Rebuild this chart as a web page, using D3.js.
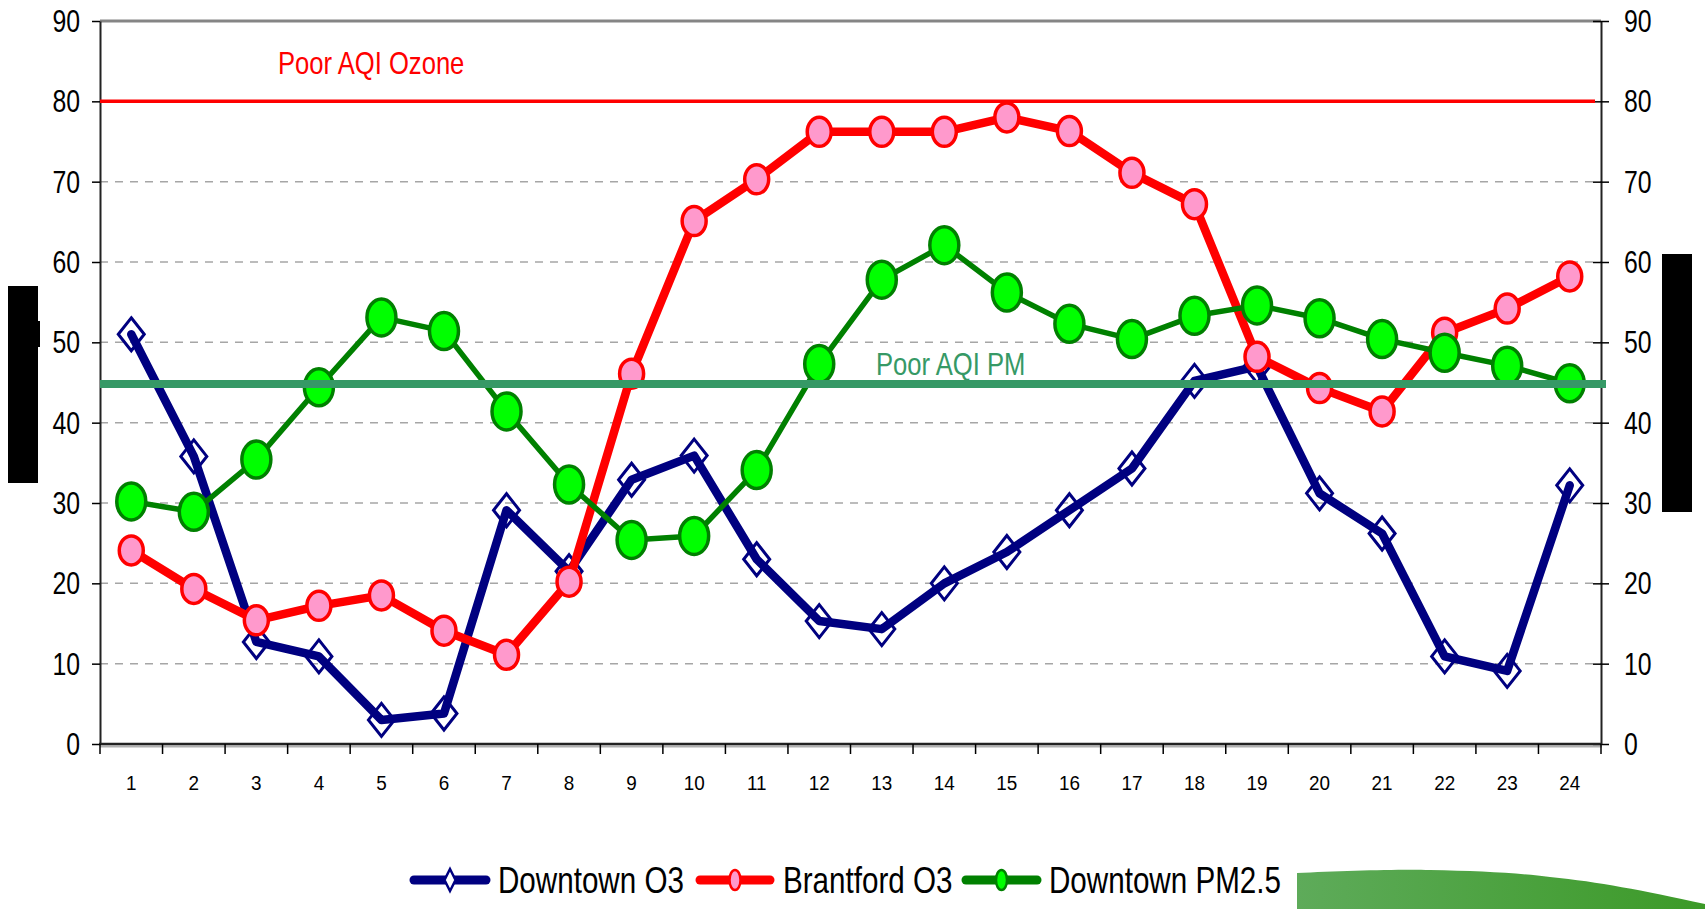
<!DOCTYPE html>
<html>
<head>
<meta charset="utf-8">
<script src="https://cdn.jsdelivr.net/npm/d3@7"></script>
<style>
  html, body { margin: 0; padding: 0; background: #fff; }
  svg { display: block; font-family: "Liberation Sans", Arial, sans-serif; }
</style>
</head>
<body>
<svg id="chart" width="1705" height="909"></svg>
<script>
// ---------- data ----------
const hours = [1,2,3,4,5,6,7,8,9,10,11,12,13,14,15,16,17,18,19,20,21,22,23,24];
const downtownO3 = [51, 35.8, 12.7, 10.9, 3, 3.8, 29.1, 21.5, 32.9, 35.9, 23, 15.3, 14.3, 20, 23.9, 29.1, 34.3, 45.2, 47, 31.2, 26.2, 10.9, 9.1, 32.2];
const brantfordO3 = [24.1, 19.3, 15.4, 17.2, 18.5, 14.1, 11.1, 20.2, 46.1, 65.1, 70.3, 76.2, 76.2, 76.2, 78, 76.3, 71.1, 67.2, 48.2, 44.3, 41.4, 51.2, 54.2, 58.2];
const downtownPM25 = [30.2, 28.9, 35.4, 44.4, 53.1, 51.4, 41.4, 32.3, 25.4, 25.9, 34.1, 47.3, 57.8, 62.1, 56.2, 52.3, 50.4, 53.3, 54.6, 53, 50.4, 48.7, 47.1, 44.9];
const yTicks = [0,10,20,30,40,50,60,70,80,90];
const gridValues = [10,20,30,40,50,60,70];
const ozonePoor = 80;
const pmPoor = 44.8;
const ozoneLabel = "Poor AQI Ozone";
const pmLabel = "Poor AQI PM";
const seriesNames = ["Downtown O3", "Brantford O3", "Downtown PM2.5"];

(function () {
// ---------- setup ----------
const svg = d3.select("#chart");
const pLeft = 100, pRight = 1601, pTop = 21, pBottom = 744;
const x = d3.scaleBand().domain(hours).range([pLeft, pRight]);
const bw = x.bandwidth();
const cx = h => x(h) + bw / 2;
const y = d3.scaleLinear().domain([0, 90]).range([pBottom, pTop]);

svg.append("rect").attr("width", 1705).attr("height", 909).attr("fill", "#fff");

// decorative green shape bottom right
const defs = svg.append("defs");
const grad = defs.append("linearGradient").attr("id", "gshape").attr("x1", "0").attr("x2", "1").attr("y1", "0").attr("y2", "0");
grad.append("stop").attr("offset", "0").attr("stop-color", "#5eab5a");
grad.append("stop").attr("offset", "1").attr("stop-color", "#3c9a28");
svg.append("path")
  .attr("d", "M1297,909 L1297,873 C1340,871 1400,869 1430,870 C1480,871 1520,873 1550,877 C1600,882 1640,890 1705,904 L1705,909 Z")
  .attr("fill", "url(#gshape)");

// black boxes (covered axis titles)
svg.append("rect").attr("x", 8).attr("y", 286).attr("width", 30).attr("height", 197).attr("fill", "#000");
svg.append("rect").attr("x", 38).attr("y", 321).attr("width", 2).attr("height", 26).attr("fill", "#000");
svg.append("rect").attr("x", 1662).attr("y", 254).attr("width", 30).attr("height", 258).attr("fill", "#000");

// gridlines
svg.append("g").selectAll("line").data(gridValues).join("line")
  .attr("x1", pLeft).attr("x2", pRight)
  .attr("y1", d => y(d)).attr("y2", d => y(d))
  .attr("stroke", "#a6a6a6").attr("stroke-width", 1.5).attr("stroke-dasharray", "8,7");

// top border
svg.append("line").attr("x1", pLeft).attr("x2", pRight).attr("y1", y(90)).attr("y2", y(90))
  .attr("stroke", "#858585").attr("stroke-width", 3);

// helper to restyle axis text
function styleText(sel, dx, sx, size, anchor) {
  sel.attr("x", null).attr("dy", null).attr("y", null)
    .attr("dominant-baseline", "central")
    .attr("text-anchor", anchor)
    .attr("font-size", size)
    .attr("font-family", "'Liberation Sans', Arial, sans-serif")
    .attr("fill", "#000")
    .attr("transform", `translate(${dx},0) scale(${sx},1)`);
}

// left axis
const gl = svg.append("g").attr("transform", `translate(${pLeft},0)`)
  .call(d3.axisLeft(y).tickValues(yTicks).tickSize(8).tickSizeOuter(0).tickFormat(d3.format("d")));
gl.select(".domain").attr("stroke", "#222").attr("stroke-width", 2);
gl.selectAll(".tick line").attr("stroke", "#000").attr("stroke-width", 1.5);
styleText(gl.selectAll(".tick text"), -20, 0.8, 31, "end");

// right axis
const gr = svg.append("g").attr("transform", `translate(${pRight},0)`)
  .call(d3.axisRight(y).tickValues(yTicks).tickSize(8).tickSizeOuter(0).tickFormat(d3.format("d")));
gr.select(".domain").attr("stroke", "#222").attr("stroke-width", 2);
gr.selectAll(".tick line").attr("stroke", "#000").attr("stroke-width", 1.5).attr("x1", -8);
styleText(gr.selectAll(".tick text"), 23, 0.8, 31, "start");

// bottom axis
const gb = svg.append("g").attr("transform", `translate(0,${pBottom})`)
  .call(d3.axisBottom(x).tickSize(0).tickSizeOuter(0));
gb.select(".domain").remove();
styleText(gb.selectAll(".tick text"), 0, 0.9, 21, "middle");
gb.selectAll(".tick text").attr("transform", "translate(0,39) scale(0.9,1)");
svg.append("line").attr("x1", pLeft).attr("x2", pRight + 1).attr("y1", pBottom + 2.5).attr("y2", pBottom + 2.5)
  .attr("stroke", "#b0b0b0").attr("stroke-width", 2);
svg.append("line").attr("x1", pLeft - 1).attr("x2", pRight + 1).attr("y1", pBottom).attr("y2", pBottom)
  .attr("stroke", "#222").attr("stroke-width", 2.5);
const boundaries = hours.map(h => x(h)).concat([x(hours[hours.length - 1]) + bw]);
svg.append("g").selectAll("line").data(boundaries).join("line")
  .attr("x1", d => d).attr("x2", d => d).attr("y1", pBottom).attr("y2", pBottom + 10)
  .attr("stroke", "#000").attr("stroke-width", 1.5);

// ---------- series ----------
const line = d3.line().x(d => cx(d.h)).y(d => y(d.v));
const toPts = arr => hours.map((h, i) => ({ h, v: arr[i] }));
const diamond = "M0,-16.5 L13,0 L0,16.5 L-13,0 Z";

// Downtown O3
const blue = toPts(downtownO3);
svg.append("path").datum(blue).attr("d", line).attr("fill", "none")
  .attr("stroke", "#000080").attr("stroke-width", 8.5)
  .attr("stroke-linejoin", "round").attr("stroke-linecap", "round");
svg.append("g").selectAll("path").data(blue).join("path")
  .attr("d", diamond).attr("transform", d => `translate(${cx(d.h)},${y(d.v)})`)
  .attr("fill", "none").attr("stroke", "#000080").attr("stroke-width", 3);

// Brantford O3
const red = toPts(brantfordO3);
svg.append("path").datum(red).attr("d", line).attr("fill", "none")
  .attr("stroke", "#ff0000").attr("stroke-width", 8.5)
  .attr("stroke-linejoin", "round").attr("stroke-linecap", "round");
svg.append("g").selectAll("ellipse").data(red).join("ellipse")
  .attr("cx", d => cx(d.h)).attr("cy", d => y(d.v)).attr("rx", 12).attr("ry", 14.5)
  .attr("fill", "#ff99cc").attr("stroke", "#ff0000").attr("stroke-width", 3.5);

// Downtown PM2.5
const green = toPts(downtownPM25);
svg.append("path").datum(green).attr("d", line).attr("fill", "none")
  .attr("stroke", "#008000").attr("stroke-width", 5.5)
  .attr("stroke-linejoin", "round").attr("stroke-linecap", "round");
svg.append("g").selectAll("ellipse").data(green).join("ellipse")
  .attr("cx", d => cx(d.h)).attr("cy", d => y(d.v)).attr("rx", 14.5).attr("ry", 18.5)
  .attr("fill", "#00ff00").attr("stroke", "#008000").attr("stroke-width", 3.5);

// ---------- thresholds ----------
svg.append("line").attr("x1", pLeft).attr("x2", pRight - 6).attr("y1", y(ozonePoor)).attr("y2", y(ozonePoor))
  .attr("stroke", "#ff0000").attr("stroke-width", 3.5);
svg.append("line").attr("x1", pLeft).attr("x2", pRight + 5).attr("y1", y(pmPoor)).attr("y2", y(pmPoor))
  .attr("stroke", "#369966").attr("stroke-width", 8);

function ctext(xp, yp, str, size, sx, anchor, fill) {
  return svg.append("text").attr("transform", `translate(${xp},${yp}) scale(${sx},1)`)
    .attr("text-anchor", anchor).attr("font-size", size).attr("fill", fill).text(str);
}
ctext(278, 74, ozoneLabel, 32, 0.8, "start", "#ff0000");
ctext(876, 375, pmLabel, 32, 0.8, "start", "#369966");

// ---------- legend ----------
const legY = 880;
const leg = [
  { name: seriesNames[0], x1: 410, x2: 490, tx: 498, color: "#000080", marker: "diamond" },
  { name: seriesNames[1], x1: 696, x2: 774, tx: 783, color: "#ff0000", marker: "red" },
  { name: seriesNames[2], x1: 962, x2: 1041, tx: 1049, color: "#008000", marker: "green" }
];
leg.forEach(l => {
  svg.append("line").attr("x1", l.x1 + 4).attr("x2", l.x2 - 4).attr("y1", legY).attr("y2", legY)
    .attr("stroke", l.color).attr("stroke-width", 9).attr("stroke-linecap", "round");
  const mx = (l.x1 + l.x2) / 2;
  if (l.marker === "diamond") {
    svg.append("path").attr("d", "M0,-11 L5.5,0 L0,11 L-5.5,0 Z").attr("transform", `translate(${mx},${legY})`)
      .attr("fill", "#fff").attr("stroke", "#000080").attr("stroke-width", 2.5);
  } else if (l.marker === "red") {
    svg.append("ellipse").attr("cx", mx).attr("cy", legY).attr("rx", 5.5).attr("ry", 10)
      .attr("fill", "#ff99cc").attr("stroke", "#ff0000").attr("stroke-width", 2.5);
  } else {
    svg.append("ellipse").attr("cx", mx).attr("cy", legY).attr("rx", 5.5).attr("ry", 10)
      .attr("fill", "#00ff00").attr("stroke", "#008000").attr("stroke-width", 2.5);
  }
  ctext(l.tx, 893, l.name, 37, 0.8, "start", "#000");
});
})();
</script>
</body>
</html>
